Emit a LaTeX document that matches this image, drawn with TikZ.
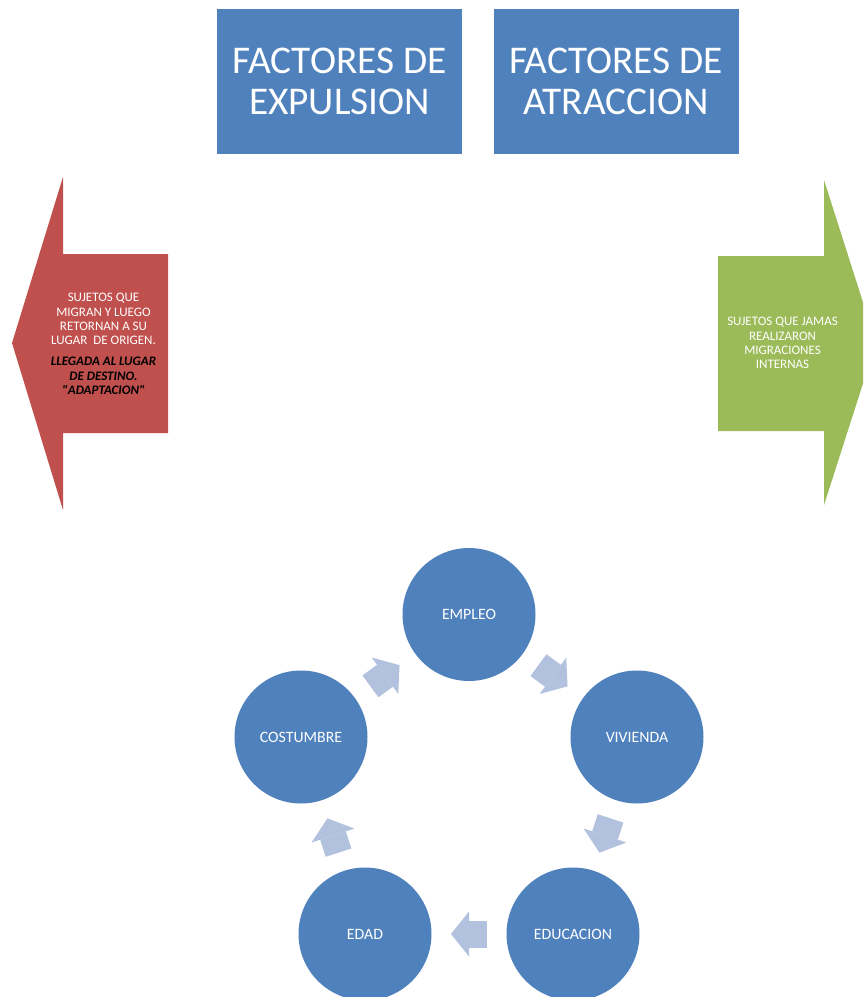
\documentclass[tikz,border=0pt]{standalone}
\usepackage{fontspec}
\setmainfont{Carlito}
\usetikzlibrary{calc,arrows.meta}
\definecolor{accblue}{RGB}{79,129,189}
\definecolor{accred}{RGB}{192,80,77}
\definecolor{accgreen}{RGB}{155,187,89}
\definecolor{cycarrow}{RGB}{178,193,221}
\begin{document}
\begin{tikzpicture}[x=1pt,y=-1pt,
  topbox/.style={fill=accblue, text=white, minimum width=245pt, minimum height=145pt,
    inner sep=0pt, align=center, font=\fontsize{39.3}{41}\selectfont},
  circ/.style={circle, fill=accblue, minimum size=133pt, inner sep=0pt, text=white,
    font=\fontsize{15.8}{18}\selectfont},
  sidetext/.style={align=center, inner sep=0pt, text=white, font=\fontsize{13}{14.3}\selectfont},
  cycarr/.style={cycarrow, line width=27pt, -{Triangle[width=45pt,length=18pt,line width=0pt]}}
]
\clip (0,0) rectangle (863,997);
\fill[white] (0,0) rectangle (863,997);

% top boxes
\node[topbox] (exp) at (339.5,81) {FACTORES DE\\EXPULSION};
\node[topbox] (atr) at (616,81) {FACTORES DE\\ATRACCION};

% red left arrow
\fill[accred] (12,343) -- (63,177) -- (63,254) -- (168,254) -- (168,433) -- (63,433) -- (63,510) -- cycle;
\node[sidetext] (redtxt) at (103.5,344) {SUJETOS QUE\\MIGRAN Y LUEGO\\RETORNAN A SU\\LUGAR\ \ DE ORIGEN.\\[7pt]
  \textcolor{black}{\bfseries\itshape LLEGADA AL LUGAR}\\
  \textcolor{black}{\bfseries\itshape DE DESTINO.}\\
  \textcolor{black}{\bfseries\itshape \textquotedbl ADAPTACION\textquotedbl}};

% green right arrow
\fill[accgreen] (876,343) -- (824,180) -- (824,256) -- (718,256) -- (718,431) -- (824,431) -- (824,505) -- cycle;
\node[sidetext] (greentxt) at (782.5,343) {SUJETOS QUE JAMAS\\REALIZARON\\MIGRACIONES\\INTERNAS};

% cycle
\node[circ] (emp) at (469,614.5) {EMPLEO};
\node[circ] (viv) at (637,737) {VIVIENDA};
\node[circ] (edu) at (573,934) {EDUCACION};
\node[circ] (eda) at (365,934) {EDAD};
\node[circ] (cos) at (301,737) {COSTUMBRE};

\draw[cycarr] ($(emp)!0.5!(viv)!18pt!(emp)$) -- ($(emp)!0.5!(viv)!18pt!(viv)$);
\draw[cycarr] ($(viv)!0.5!(edu)!18pt!(viv)$) -- ($(viv)!0.5!(edu)!18pt!(edu)$);
\draw[cycarr] ($(edu)!0.5!(eda)!18pt!(edu)$) -- ($(edu)!0.5!(eda)!18pt!(eda)$);
\draw[cycarr] ($(eda)!0.5!(cos)!18pt!(eda)$) -- ($(eda)!0.5!(cos)!18pt!(cos)$);
\draw[cycarr] ($(cos)!0.5!(emp)!18pt!(cos)$) -- ($(cos)!0.5!(emp)!18pt!(emp)$);
\end{tikzpicture}
\end{document}
